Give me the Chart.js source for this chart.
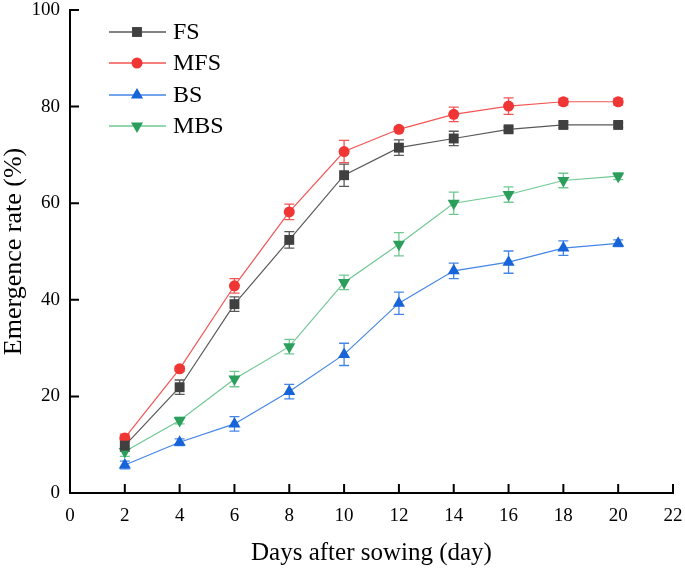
<!DOCTYPE html>
<html>
<head>
<meta charset="utf-8">
<script src="https://cdn.jsdelivr.net/npm/chart.js@4.4.0/dist/chart.umd.min.js"></script>
<style>
    html, body { margin: 0; padding: 0; background: #fff; }
    #wrap { width: 685px; height: 568px; }
</style>
</head>
<body>
<div id="wrap"><canvas id="mychart" width="685" height="568"></canvas></div>
<script>
// days after sowing
var days = [2, 4, 6, 8, 10, 12, 14, 16, 18, 20];

// emergence rate (%) and error bars
var fsVals = [9.8, 21.9, 39.1, 52.4, 65.8, 71.5, 73.4, 75.3, 76.2, 76.2];
var fsErr = [1.2, 1.5, 1.5, 1.7, 2.3, 1.6, 1.5, 0.5, 0.6, 0.5];
var mfsVals = [11.4, 25.7, 42.9, 58.2, 70.7, 75.3, 78.4, 80.1, 81.0, 81.0];
var mfsErr = [0.8, 0.5, 1.5, 1.6, 2.3, 0.5, 1.5, 1.7, 0.7, 0.7];
var bsVals = [5.8, 10.5, 14.3, 21.0, 28.7, 39.3, 46.0, 47.8, 50.7, 51.7];
var bsErr = [0.8, 0.7, 1.5, 1.5, 2.3, 2.3, 1.6, 2.3, 1.5, 0.7];
var mbsVals = [8.6, 15.0, 23.6, 30.3, 43.6, 51.5, 60.0, 61.8, 64.7, 65.6];
var mbsErr = [1.0, 0.7, 1.6, 1.5, 1.5, 2.4, 2.3, 1.6, 1.5, 0.7];

var seriesNames = ["FS", "MFS", "BS", "MBS"];
var xTicks = [0, 2, 4, 6, 8, 10, 12, 14, 16, 18, 20, 22];
var yTicks = [0, 20, 40, 60, 80, 100];

var serif = "'Liberation Serif', 'Times New Roman', serif";

function pts(vals) {
    return days.map(function(d, i) { return {x: d, y: vals[i]}; });
}

function makeSet(name, vals, errs, line, mark, style, radius, rot) {
    return {
        label: name,
        data: pts(vals),
        errors: errs,
        borderColor: line,
        borderWidth: 1.2,
        backgroundColor: mark,
        pointBackgroundColor: mark,
        pointBorderColor: mark,
        pointBorderWidth: 0,
        pointStyle: style,
        pointRadius: radius,
        pointRotation: rot,
        tension: 0,
        fill: false
    };
}

// error bars, drawn under the markers
var errorBars = {
    id: 'errorBars',
    beforeDatasetsDraw: function(chart) {
        var ctx = chart.ctx;
        var xs = chart.scales.x, ys = chart.scales.y;
        ctx.save();
        chart.data.datasets.forEach(function(ds) {
            ctx.strokeStyle = ds.borderColor;
            ctx.lineWidth = 1.3;
            ds.data.forEach(function(p, i) {
                var e = ds.errors[i];
                var px = xs.getPixelForValue(p.x);
                var top = ys.getPixelForValue(p.y + e);
                var bot = ys.getPixelForValue(p.y - e);
                ctx.beginPath();
                ctx.moveTo(px, top); ctx.lineTo(px, bot);
                ctx.moveTo(px - 5, top); ctx.lineTo(px + 5, top);
                ctx.moveTo(px - 5, bot); ctx.lineTo(px + 5, bot);
                ctx.stroke();
            });
        });
        ctx.restore();
    }
};

// tick marks pointing into the plot
var innerTicks = {
    id: 'innerTicks',
    afterDraw: function(chart) {
        var ctx = chart.ctx, a = chart.chartArea;
        var xs = chart.scales.x, ys = chart.scales.y;
        ctx.save();
        ctx.strokeStyle = '#000';
        ctx.lineWidth = 2;
        ctx.beginPath();
        xTicks.forEach(function(v) {
            var px = xs.getPixelForValue(v);
            ctx.moveTo(px, a.bottom); ctx.lineTo(px, a.bottom - 9);
        });
        yTicks.forEach(function(v) {
            var py = ys.getPixelForValue(v);
            ctx.moveTo(a.left, py); ctx.lineTo(a.left + 9, py);
        });
        ctx.stroke();
        ctx.restore();
    }
};

// legend inside the plot, top left
var innerLegend = {
    id: 'innerLegend',
    afterDraw: function(chart) {
        var ctx = chart.ctx;
        var rows = [32, 63, 95, 126];
        ctx.save();
        chart.data.datasets.forEach(function(ds, i) {
            var y = rows[i];
            ctx.strokeStyle = ds.borderColor;
            ctx.lineWidth = 1.5;
            ctx.beginPath();
            ctx.moveTo(109, y); ctx.lineTo(166, y);
            ctx.stroke();
            ctx.fillStyle = ds.pointBackgroundColor;
            ctx.strokeStyle = ds.pointBackgroundColor;
            ctx.lineWidth = 0;
            Chart.helpers.drawPoint(ctx, {pointStyle: ds.pointStyle, radius: ds.pointRadius, rotation: ds.pointRotation, borderWidth: 0}, 137, y);
            ctx.fillStyle = '#000';
            ctx.font = '24px ' + serif;
            ctx.textBaseline = 'middle';
            ctx.textAlign = 'left';
            ctx.fillText(ds.label, 173, y + 1);
        });
        ctx.restore();
    }
};

var myChart = new Chart(document.getElementById('mychart'), {
    type: 'line',
    data: {
        datasets: [
            makeSet(seriesNames[0], fsVals, fsErr, '#595959', '#404040', 'rect', 7, 0),
            makeSet(seriesNames[1], mfsVals, mfsErr, '#f35555', '#f03535', 'circle', 5.5, 0),
            makeSet(seriesNames[2], bsVals, bsErr, '#4486e6', '#1763d8', 'triangle', 7, 0),
            makeSet(seriesNames[3], mbsVals, mbsErr, '#70c893', '#2b9e5c', 'triangle', 7, 180)
        ]
    },
    options: {
        responsive: false,
        devicePixelRatio: 1,
        animation: false,
        layout: { padding: { top: 10, right: 12, left: 0, bottom: 0 } },
        plugins: {
            legend: { display: false },
            tooltip: { enabled: false }
        },
        scales: {
            x: {
                type: 'linear',
                min: 0,
                max: 22,
                afterBuildTicks: function(scale) {
                    scale.ticks = xTicks.map(function(v) { return {value: v}; });
                },
                afterFit: function(scale) {
                    scale.height = 75;
                    scale.paddingLeft = 0;
                    scale.paddingRight = 0;
                },
                grid: { display: false, drawTicks: false },
                border: { display: true, color: '#000', width: 2 },
                ticks: {
                    autoSkip: false,
                    maxRotation: 0,
                    padding: 12,
                    color: '#000',
                    font: { family: serif, size: 19 }
                },
                title: {
                    display: true,
                    text: 'Days after sowing (day)',
                    color: '#000',
                    font: { family: serif, size: 25 },
                    padding: { top: 6, bottom: 0 }
                }
            },
            y: {
                type: 'linear',
                min: 0,
                max: 100,
                afterBuildTicks: function(scale) {
                    scale.ticks = yTicks.map(function(v) { return {value: v}; });
                },
                afterFit: function(scale) {
                    scale.width = 70;
                    scale.paddingTop = 0;
                    scale.paddingBottom = 0;
                },
                grid: { display: false, drawTicks: false },
                border: { display: true, color: '#000', width: 2 },
                ticks: {
                    padding: 10,
                    color: '#000',
                    font: { family: serif, size: 19 }
                },
                title: {
                    display: true,
                    text: 'Emergence rate (%)',
                    color: '#000',
                    font: { family: serif, size: 26, lineHeight: 1 },
                    padding: { top: 1, bottom: 0 }
                }
            }
        }
    },
    plugins: [errorBars, innerTicks, innerLegend]
});
</script>
</body>
</html>
